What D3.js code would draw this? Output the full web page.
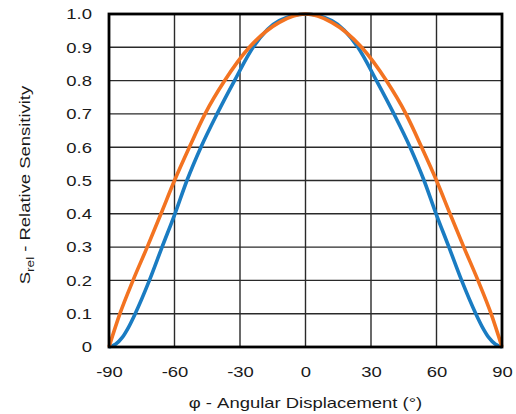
<!DOCTYPE html>
<html>
<head>
<meta charset="utf-8">
<script src="https://cdn.jsdelivr.net/npm/d3@7"></script>
<style>
  body { margin: 0; background: #fff; }
  text { font-family: "Liberation Sans", Arial, Helvetica, sans-serif; fill: #1a1a1a; }
</style>
</head>
<body>
<svg id="chart" width="516" height="414"></svg>
<script>
// tick labels
const xTicks = [-90, -60, -30, 0, 30, 60, 90]
const yTicks = [0, 0.1, 0.2, 0.3, 0.4, 0.5, 0.6, 0.7, 0.8, 0.9, 1.0]

// blue curve (angle, relative sensitivity)
const blueAngle = [-90, -87, -84, -81, -78, -71.5, -65.7, -59.8, -54.3, -47.9, -40.5, -32.5, -24, -12, 0, 12, 24, 32.5, 40.5, 47.9, 54.3, 59.8, 65.7, 71.5, 78, 81, 84, 87, 90]
const blueValue = [0, 0.008, 0.028, 0.06, 0.1, 0.2, 0.3, 0.4, 0.5, 0.6, 0.7, 0.8, 0.9, 0.98, 1.0, 0.98, 0.9, 0.8, 0.7, 0.6, 0.5, 0.4, 0.3, 0.2, 0.1, 0.06, 0.028, 0.008, 0]

// orange curve
const orangeAngle = [-90, -85, -79, -72.5, -66.2, -60, -53.2, -46, -37, -25.7, -12, 0, 12, 25.7, 37, 46, 53.2, 60, 66.2, 72.5, 79, 85, 90]
const orangeValue = [0, 0.1, 0.2, 0.3, 0.4, 0.5, 0.6, 0.7, 0.8, 0.9, 0.975, 1.0, 0.975, 0.9, 0.8, 0.7, 0.6, 0.5, 0.4, 0.3, 0.2, 0.1, 0]

const margin = {left: 109, right: 14, top: 14, bottom: 67}
const width = 516, height = 414
const stretch = 'scale(1.23,1)'   // the original lettering runs wider than Arial

const svg = d3.select('#chart')

const x = d3.scaleLinear().domain([-90, 90]).range([margin.left, width - margin.right])
const y = d3.scaleLinear().domain([0, 1]).range([height - margin.bottom, margin.top])

// grid
svg.append('g').selectAll('line')
  .data(xTicks)
  .join('line')
    .attr('x1', d => x(d)).attr('x2', d => x(d))
    .attr('y1', y(0)).attr('y2', y(1))
    .attr('stroke', '#2a2a2a').attr('stroke-width', 1.4)

svg.append('g').selectAll('line')
  .data(yTicks)
  .join('line')
    .attr('x1', x(-90)).attr('x2', x(90))
    .attr('y1', d => y(d)).attr('y2', d => y(d))
    .attr('stroke', '#2a2a2a').attr('stroke-width', 1.4)

// axes (labels only, lines come from the frame)
const xAxis = svg.append('g')
  .attr('transform', `translate(0,${y(0)})`)
  .call(d3.axisBottom(x).tickValues(xTicks).tickSize(0).tickPadding(19).tickFormat(d => String(d)))
xAxis.select('.domain').remove()
xAxis.selectAll('text')
  .attr('font-family', null).attr('font-size', null)
  .style('font-size', '15px').attr('fill', '#1a1a1a')
  .attr('transform', stretch)

const yAxis = svg.append('g')
  .attr('transform', `translate(${x(-90)},0)`)
  .call(d3.axisLeft(y).tickValues(yTicks).tickSize(0)
    .tickFormat(d => d === 0 ? '0' : d3.format('.1f')(d)))
yAxis.select('.domain').remove()
yAxis.selectAll('text')
  .attr('font-family', null).attr('font-size', null)
  .style('font-size', '15px').attr('fill', '#1a1a1a')
  .attr('x', null)
  .attr('transform', 'translate(-17,0) ' + stretch)

// curves
const line = d3.line().curve(d3.curveMonotoneX)

function drawCurve(angles, values, color){
  svg.append('path')
    .datum(angles.map((a, i) => [x(a), y(values[i])]))
    .attr('d', line)
    .attr('fill', 'none')
    .attr('stroke', color)
    .attr('stroke-width', 3.6)
    .attr('stroke-linejoin', 'round')
}
drawCurve(blueAngle, blueValue, '#1a7cc2')
drawCurve(orangeAngle, orangeValue, '#f37321')

// frame
svg.append('rect')
  .attr('x', x(-90)).attr('y', y(1))
  .attr('width', x(90) - x(-90)).attr('height', y(0) - y(1))
  .attr('fill', 'none').attr('stroke', '#000').attr('stroke-width', 2.8)

// axis titles
svg.append('text')
  .attr('transform', `translate(${(x(-90) + x(90)) / 2},408) ${stretch}`)
  .attr('text-anchor', 'middle')
  .style('font-size', '15px')
  .text('φ - Angular Displacement (°)')

const yt = svg.append('text')
  .attr('transform', `translate(30,185) rotate(-90) ${stretch}`)
  .attr('text-anchor', 'middle')
  .style('font-size', '15px')
yt.append('tspan').text('S')
yt.append('tspan').text('rel').attr('dy', 4).style('font-size', '11px')
yt.append('tspan').text(' - Relative Sensitivity').attr('dy', -4)
</script>
</body>
</html>
